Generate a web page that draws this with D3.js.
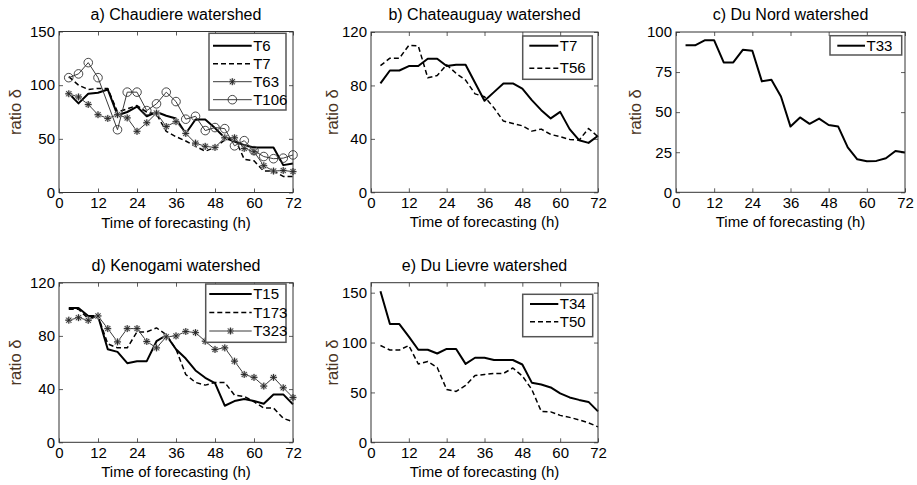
<!DOCTYPE html>
<html><head><meta charset="utf-8">
<script src="https://cdn.jsdelivr.net/npm/d3@7/dist/d3.min.js"></script>
<style>
html,body{margin:0;padding:0;background:#fff;}
svg text{font-family:"Liberation Sans",Arial,sans-serif;fill:#000;}
</style></head><body>
<svg id="chart" width="917" height="485"></svg>
<script>
// ---- data ----
const hours = [3,6,9,12,15,18,21,24,27,30,33,36,39,42,45,48,51,54,57,60,63,66,69,72];
const hoursT106 = [3,6,9,12,18,21,24,27,30,33,36,39,42,45,48,51,54,57,60,63,66,69,72];
const xTicks = [0,12,24,36,48,60,72];

// a) Chaudiere
const chaudT6   = [92.5,83,92,93,96,72,75,80,71,75,71.5,69,55,68,68,60,51,47.5,44,42,42,42,25.5,27];
const chaudT7   = [108,100,96,97,97,75,78,81,75,73,57,52,48,43,38.5,42,49,51,31,29.5,20,20,15,15];
const chaudT63  = [92,89,82,72.5,69,72.5,69.5,57,65,74,61.5,66,55,46,43,42,51,51,41,38,25,20,20.5,19.5];
const chaudT106 = [107,110.5,121,107,58.5,93.5,93.5,76.3,82.6,93.5,84.7,68.3,71,57.7,60.5,59.5,43.5,48.3,39,33.5,31.5,32,35];
const chaudYTicks = [0,50,100,150];

// b) Chateauguay
const chatT7  = [81.5,91.2,91.2,94.5,94.5,100,100,94.5,95.5,95.5,82,68.5,75,81.5,81.5,77.6,69,61.5,55.3,60.2,47.3,39,37,42.3];
const chatT56 = [94.8,100.4,100.4,110,109.6,85.7,87.4,95.5,89,84,73.7,71.5,63.2,53.3,51.5,49.8,45.8,47.3,43.3,41.6,39.6,39,47.8,41.6];
const chatYTicks = [0,40,80,120];

// c) Du Nord
const nordT33 = [91.7,91.7,94.8,94.8,81,81,88.9,88.3,69.2,70.2,59.8,41,46.7,42.7,46,42,41,28,20.6,19.4,19.6,21.2,25.8,24.8];
const nordYTicks = [0,25,50,75,100];

// d) Kenogami
const kenoT15  = [101,101,95,95,70,68,59.5,61,61,76,80.5,70,63,54,48.5,44.5,27.5,31,32.5,31,29,36,36,28.5];
const kenoT173 = [100,100,93,95,74,71,71,83,83,86,81,70,51,45,43,45,45,35.5,34.5,30.5,25.8,25.8,18,15.5];
const kenoT323 = [91.8,93.7,91.7,95,85.5,75.5,85.5,85.5,75.8,71,79.3,80,83.3,82.5,76,69.8,71,61,51,48.8,42.3,48.8,41,33.7];
const kenoYTicks = [0,40,80,120];

// e) Du Lievre
const lievT34 = [151.5,118.5,118.5,106,92.8,92.8,89,93.6,93.6,78.6,84.8,84.8,82.5,82.5,82.5,78,59.8,58,55,49,45,42.5,40.5,31];
const lievT50 = [97,92.5,92.5,97,78.5,81,75,53,51,57,67,68,69,69,74.5,66.5,53,31,30.5,27,25,22.5,19.5,15.5];
const lievYTicks = [0,50,100,150];

// ---- styles ----
const STY = {
  solid:  {stroke:"#000", width:2, dash:null, marker:null},
  dashed: {stroke:"#000", width:1.5, dash:"5,3", marker:null},
  star:   {stroke:"#3a3a3a", width:1, dash:null, marker:"star"},
  circle: {stroke:"#3a3a3a", width:1, dash:null, marker:"circle"}
};

const panels = [
  {title:"a) Chaudiere watershed", box:[59,31.5,293,192.5], ymax:150, yTicks:chaudYTicks, ylabX:15,
   legend:{x:209,y:33.3,w:77,h:76.7,first:12.4,rows:18,l0:4,l1:42.7},
   series:[{name:"T6",x:hours,y:chaudT6,s:"solid"},{name:"T7",x:hours,y:chaudT7,s:"dashed"},
           {name:"T63",x:hours,y:chaudT63,s:"star"},{name:"T106",x:hoursT106,y:chaudT106,s:"circle"}]},
  {title:"b) Chateauguay watershed", box:[371,32,598,192.3], ymax:120, yTicks:chatYTicks, ylabX:332,
   legend:{x:522.7,y:36,w:69.6,h:43.3,first:9.7,rows:22.6,l0:6.6,l1:35.6},
   series:[{name:"T7",x:hours,y:chatT7,s:"solid"},{name:"T56",x:hours,y:chatT56,s:"dashed"}]},
  {title:"c) Du Nord watershed", box:[676,32,905,192.3], ymax:100, yTicks:nordYTicks, ylabX:635,
   legend:{x:830,y:35.7,w:71.7,h:19.3,first:10,rows:18,l0:7.3,l1:35},
   series:[{name:"T33",x:hours,y:nordT33,s:"solid"}]},
  {title:"d) Kenogami watershed", box:[59,282.7,293,442.3], ymax:120, yTicks:kenoYTicks, ylabX:15,
   legend:{x:205.7,y:284,w:80.3,h:58.3,first:10,rows:18.5,l0:3.6,l1:46},
   series:[{name:"T15",x:hours,y:kenoT15,s:"solid"},{name:"T173",x:hours,y:kenoT173,s:"dashed"},
           {name:"T323",x:hours,y:kenoT323,s:"star"}]},
  {title:"e) Du Lievre watershed", box:[371,282.7,598,442.3], ymax:160, yTicks:lievYTicks, ylabX:332,
   legend:{x:522.7,y:294.3,w:70,h:42.4,first:9.7,rows:17.7,l0:7.3,l1:35.6},
   series:[{name:"T34",x:hours,y:lievT34,s:"solid"},{name:"T50",x:hours,y:lievT50,s:"dashed"}]}
];

const svg = d3.select("#chart");
const FS = 15;

function starPath(r){
  const a = r*0.72;
  return `M${-r},0L${r},0M0,${-r}L0,${r}M${-a},${-a}L${a},${a}M${-a},${a}L${a},${-a}`;
}
function drawMarker(g, type, x, y){
  if(type==="star"){
    g.append("path").attr("d",starPath(3.6)).attr("transform",`translate(${x},${y})`)
      .attr("stroke","#bbb").attr("stroke-width",1.8).attr("fill","none");
    g.append("path").attr("d",starPath(3.4)).attr("transform",`translate(${x},${y})`)
      .attr("stroke","#222").attr("stroke-width",0.9).attr("fill","none");
  } else if(type==="circle"){
    g.append("circle").attr("cx",x).attr("cy",y).attr("r",4.3)
      .attr("stroke","#333").attr("stroke-width",0.9).attr("fill","none");
  }
}

panels.forEach(p=>{
  const [x0,y0,x1,y1] = p.box;
  const xs = d3.scaleLinear().domain([0,72]).range([x0,x1]);
  const ys = d3.scaleLinear().domain([0,p.ymax]).range([y1,y0]);
  const g = svg.append("g");

  const tl = 4;
  g.append("g").attr("transform",`translate(0,${y1})`)
    .call(d3.axisBottom(xs).tickValues(xTicks).tickSize(-tl).tickPadding(5).tickFormat(d3.format("d")))
    .call(a=>{a.select(".domain").remove(); a.selectAll("text").attr("font-size",FS).attr("font-family","Liberation Sans, Arial").attr("fill","#000");});
  g.append("g").attr("transform",`translate(0,${y0})`)
    .call(d3.axisTop(xs).tickValues(xTicks).tickSize(-tl).tickFormat(""))
    .call(a=>a.select(".domain").remove());
  g.append("g").attr("transform",`translate(${x0},0)`)
    .call(d3.axisLeft(ys).tickValues(p.yTicks).tickSize(-tl).tickPadding(4).tickFormat(d3.format("d")))
    .call(a=>{a.select(".domain").remove(); a.selectAll("text").attr("font-size",FS).attr("font-family","Liberation Sans, Arial").attr("fill","#000");});
  g.append("g").attr("transform",`translate(${x1},0)`)
    .call(d3.axisRight(ys).tickValues(p.yTicks).tickSize(-tl).tickFormat(""))
    .call(a=>a.select(".domain").remove());
  g.selectAll(".tick line").attr("stroke","#333").attr("stroke-width",0.8);

  const line = d3.line().x(d=>xs(d[0])).y(d=>ys(d[1]));
  p.series.forEach(s=>{
    const st = STY[s.s];
    const pts = s.x.map((t,i)=>[t,s.y[i]]);
    g.append("path").attr("d",line(pts)).attr("fill","none")
      .attr("stroke",st.stroke).attr("stroke-width",st.width)
      .attr("stroke-dasharray",st.dash).attr("stroke-linejoin","round");
    if(st.marker){ pts.forEach(d=>drawMarker(g, st.marker, xs(d[0]), ys(d[1]))); }
  });

  g.append("rect").attr("x",x0).attr("y",y0).attr("width",x1-x0).attr("height",y1-y0)
    .attr("fill","none").attr("stroke","#333").attr("stroke-width",1);

  g.append("text").attr("x",(x0+x1)/2).attr("y",y0-12).attr("text-anchor","middle")
    .attr("font-size",16).text(p.title);
  g.append("text").attr("x",(x0+x1)/2).attr("y",y1+35).attr("text-anchor","middle")
    .attr("font-size",FS).text("Time of forecasting (h)");
  g.append("text").attr("transform",`translate(${p.ylabX+6},${(y0+y1)/2}) rotate(-90)`)
    .attr("text-anchor","middle").attr("font-size",16.5).style("fill","#4a3524").text("ratio δ");

  const L = p.legend;
  const lg = g.append("g");
  lg.append("rect").attr("x",L.x).attr("y",L.y).attr("width",L.w).attr("height",L.h)
    .attr("fill","#fff").attr("stroke","#555").attr("stroke-width",1.5);
  p.series.forEach((s,i)=>{
    const st = STY[s.s];
    const cy = L.y + L.first + i*L.rows;
    const lx0 = L.x+L.l0, lx1 = L.x+L.l1;
    lg.append("line").attr("x1",lx0).attr("x2",lx1).attr("y1",cy).attr("y2",cy)
      .attr("stroke",st.stroke).attr("stroke-width",st.width).attr("stroke-dasharray",st.dash);
    if(st.marker) drawMarker(lg, st.marker, (lx0+lx1)/2, cy);
    lg.append("text").attr("x",lx1+1.5).attr("y",cy+5).attr("font-size",FS).text(s.name);
  });
});
</script>
</body></html>
